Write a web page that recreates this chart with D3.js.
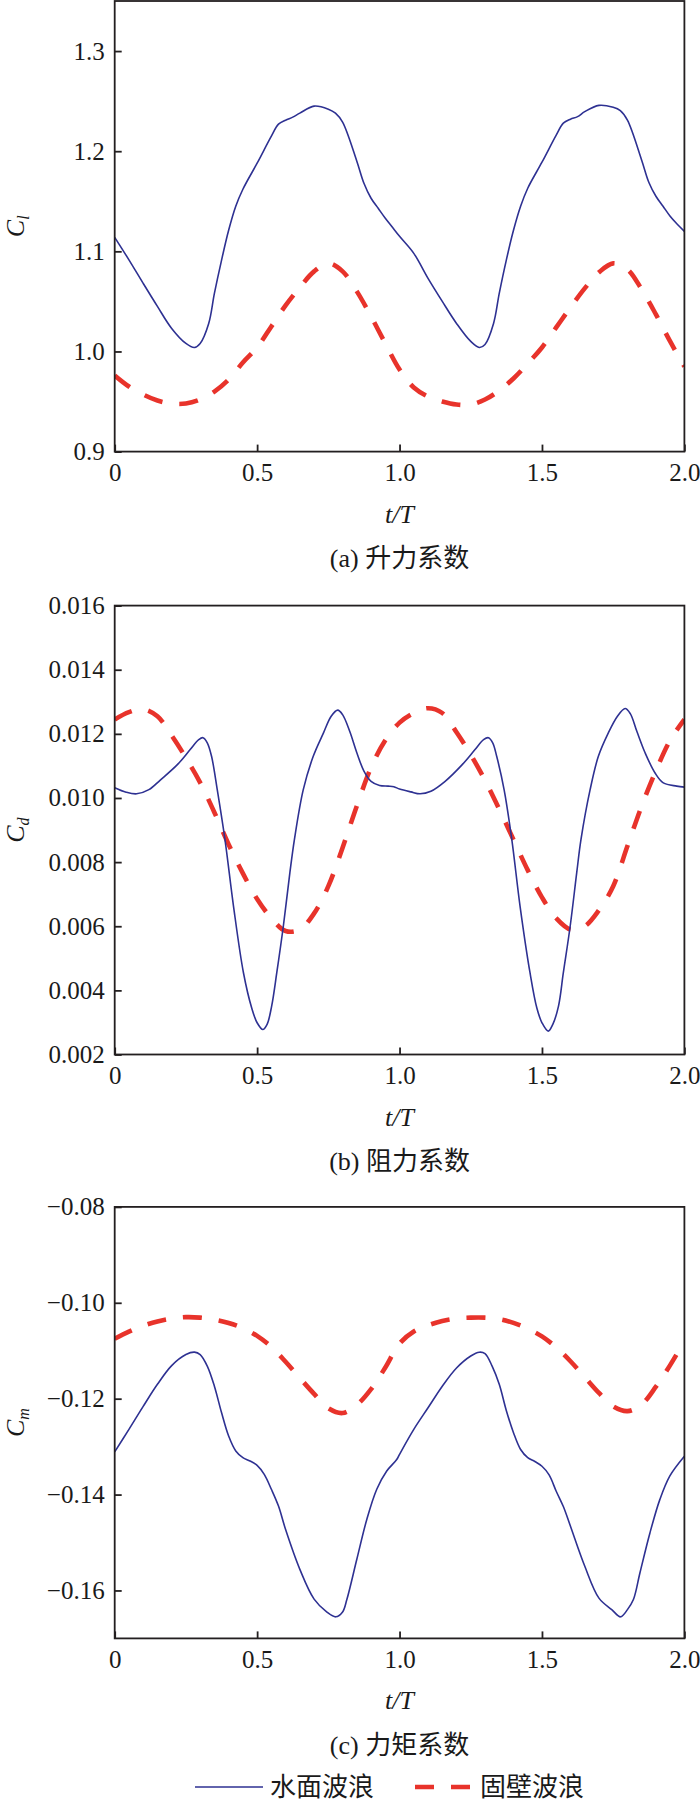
<!DOCTYPE html>
<html>
<head>
<meta charset="utf-8">
<script src="https://cdn.jsdelivr.net/npm/d3@7"></script>
<style>
  body { margin: 0; background: #fff; }
  svg { display: block; }
  text { font-family: "Liberation Serif", "Times New Roman", "Noto Sans CJK SC", serif; fill: #1a1a1a; }
</style>
</head>
<body>
<script>
// ---- data, [t/T, value] ----
var liftWater = [[0,1.114],[0.05,1.0915],[0.1,1.068],[0.15,1.045],[0.2,1.023],[0.25,1.008],[0.28,1.004],[0.3,1.008],[0.33,1.028],[0.35,1.058],[0.375,1.091],[0.4,1.121],[0.425,1.145],[0.45,1.162],[0.5,1.188],[0.55,1.215],[0.575,1.227],[0.6,1.231],[0.625,1.234],[0.65,1.238],[0.7,1.245],[0.75,1.242],[0.775,1.238],[0.8,1.229],[0.85,1.19],[0.875,1.168],[0.9,1.153],[0.925,1.143],[0.95,1.133],[0.975,1.124],[1.0,1.115],
  [1.05,1.098],[1.1,1.073],[1.15,1.05],[1.2,1.028],[1.25,1.01],[1.28,1.004],[1.3,1.007],[1.33,1.028],[1.35,1.058],[1.375,1.0915],[1.4,1.121],[1.425,1.145],[1.45,1.163],[1.5,1.189],[1.55,1.216],[1.575,1.228],[1.6,1.232],[1.625,1.2345],[1.65,1.2395],[1.7,1.2458],[1.75,1.2438],[1.775,1.2405],[1.8,1.231],[1.85,1.191],[1.875,1.169],[1.9,1.155],[1.925,1.145],[1.95,1.135],[1.975,1.127],[2.0,1.12]];
var liftWall = [[0,0.976],[0.05,0.965],[0.1,0.957],[0.15,0.951],[0.2,0.948],[0.25,0.948],[0.3,0.952],[0.35,0.960],[0.4,0.972],[0.45,0.989],[0.5,1.004],[0.55,1.025],[0.6,1.046],[0.65,1.064],[0.7,1.080],[0.75,1.088],[0.8,1.080],[0.85,1.060],[0.9,1.035],[0.95,1.008],[1.0,0.982],
  [1.05,0.964],[1.1,0.955],[1.15,0.950],[1.2,0.947],[1.25,0.947],[1.3,0.952],[1.35,0.961],[1.4,0.973],[1.45,0.988],[1.5,1.004],[1.55,1.024],[1.6,1.044],[1.65,1.063],[1.7,1.079],[1.75,1.088],[1.8,1.082],[1.85,1.062],[1.9,1.037],[1.95,1.010],[2.0,0.985]];

var dragWater = [[0,0.01032],[0.04,0.01018],[0.077,0.01013],[0.12,0.01026],[0.16,0.01056],[0.22,0.01104],[0.265,0.01151],[0.295,0.01182],[0.31,0.01188],[0.325,0.01172],[0.34,0.0113],[0.36,0.01026],[0.387,0.00871],[0.417,0.00663],[0.452,0.00455],[0.481,0.00345],[0.5,0.00299],[0.52,0.00278],[0.535,0.00294],[0.551,0.00351],[0.569,0.00455],[0.592,0.006],[0.615,0.00767],[0.631,0.00871],[0.662,0.01026],[0.697,0.0113],[0.733,0.01203],[0.76,0.01255],[0.783,0.01274],[0.8,0.0126],[0.825,0.01208],[0.85,0.01141],[0.875,0.01084],[0.9,0.01052],[0.93,0.01039],[0.96,0.01037],[0.98,0.01035],[1.0,0.01028],
  [1.04,0.01019],[1.072,0.01013],[1.11,0.01021],[1.16,0.01052],[1.22,0.01104],[1.265,0.01151],[1.295,0.01182],[1.312,0.01188],[1.327,0.01172],[1.341,0.0113],[1.367,0.01026],[1.394,0.00871],[1.423,0.00663],[1.458,0.00455],[1.482,0.00345],[1.5,0.00299],[1.522,0.00273],[1.538,0.00294],[1.558,0.00351],[1.575,0.00455],[1.599,0.006],[1.622,0.00767],[1.637,0.00871],[1.669,0.01026],[1.698,0.0113],[1.733,0.01203],[1.765,0.01255],[1.792,0.01279],[1.81,0.01263],[1.833,0.01208],[1.862,0.01141],[1.897,0.01078],[1.926,0.01047],[1.973,0.01037],[2.0,0.01034]];
var dragWall = [[0,0.01245],[0.05,0.01268],[0.1,0.01277],[0.15,0.01255],[0.2,0.01195],[0.25,0.01125],[0.3,0.01048],[0.35,0.00955],[0.4,0.00855],[0.45,0.00765],[0.5,0.00685],[0.55,0.00625],[0.6,0.00585],[0.65,0.0059],[0.7,0.0064],[0.75,0.00725],[0.8,0.00845],[0.85,0.00975],[0.9,0.01095],[0.95,0.0118],[1.0,0.01235],
  [1.05,0.01265],[1.1,0.0128],[1.15,0.01265],[1.2,0.01205],[1.25,0.01135],[1.3,0.01055],[1.35,0.00965],[1.4,0.0087],[1.45,0.00775],[1.5,0.0069],[1.55,0.00625],[1.6,0.0059],[1.65,0.006],[1.7,0.0065],[1.75,0.00725],[1.8,0.0085],[1.85,0.00975],[1.9,0.01085],[1.95,0.0118],[2.0,0.01245]];

var momentWater = [[0,-0.1311],[0.05,-0.1264],[0.1,-0.1216],[0.15,-0.117],[0.2,-0.1131],[0.25,-0.1108],[0.28,-0.1103],[0.3,-0.1108],[0.325,-0.1132],[0.35,-0.1174],[0.375,-0.1229],[0.4,-0.1278],[0.425,-0.1309],[0.45,-0.1323],[0.475,-0.133],[0.5,-0.1339],[0.525,-0.1358],[0.55,-0.1389],[0.575,-0.1424],[0.6,-0.1473],[0.65,-0.1556],[0.7,-0.1618],[0.745,-0.1645],[0.776,-0.1655],[0.8,-0.1645],[0.815,-0.1619],[0.85,-0.1535],[0.885,-0.1452],[0.92,-0.1389],[0.955,-0.1351],[0.99,-0.1327],[1.0,-0.1316],
  [1.05,-0.1264],[1.1,-0.1219],[1.15,-0.1174],[1.2,-0.1136],[1.25,-0.1111],[1.28,-0.1103],[1.3,-0.1106],[1.325,-0.1132],[1.35,-0.117],[1.375,-0.1225],[1.4,-0.1271],[1.425,-0.1306],[1.45,-0.1323],[1.475,-0.1331],[1.5,-0.1341],[1.525,-0.1359],[1.55,-0.1393],[1.575,-0.1425],[1.6,-0.1466],[1.65,-0.1549],[1.7,-0.1616],[1.745,-0.164],[1.776,-0.1655],[1.8,-0.164],[1.821,-0.1619],[1.844,-0.1563],[1.879,-0.148],[1.914,-0.141],[1.949,-0.1361],[2.0,-0.132]];
var momentWall = [[0,-0.1075],[0.05,-0.106],[0.1,-0.1048],[0.15,-0.1039],[0.2,-0.1033],[0.25,-0.103],[0.3,-0.1031],[0.35,-0.1035],[0.4,-0.1042],[0.45,-0.1053],[0.5,-0.1069],[0.55,-0.1092],[0.6,-0.1123],[0.65,-0.1157],[0.7,-0.119],[0.75,-0.122],[0.8,-0.123],[0.85,-0.1213],[0.9,-0.118],[0.95,-0.1135],[1.0,-0.1085],
  [1.05,-0.106],[1.1,-0.1047],[1.15,-0.1038],[1.2,-0.1033],[1.25,-0.1031],[1.3,-0.1031],[1.35,-0.1034],[1.4,-0.1042],[1.45,-0.1054],[1.5,-0.107],[1.55,-0.1093],[1.6,-0.1122],[1.65,-0.1155],[1.7,-0.1188],[1.75,-0.1216],[1.8,-0.1226],[1.85,-0.1212],[1.9,-0.1175],[1.95,-0.113],[2.0,-0.108]];

var xTicks = [0, 0.5, 1.0, 1.5, 2.0];
var liftTicks = [0.9, 1.0, 1.1, 1.2, 1.3];
var dragTicks = [0.002, 0.004, 0.006, 0.008, 0.010, 0.012, 0.014, 0.016];
var momentTicks = [-0.16, -0.14, -0.12, -0.10, -0.08];
var seriesNames = ["水面波浪", "固壁波浪"];
var captions = ["(a) 升力系数", "(b) 阻力系数", "(c) 力矩系数"];
var ySubs = ["l", "d", "m"];

// ---- layout ----
var left = 114.7, right = 684.4;
var blue = "#2e3192", red = "#e8332b", frameColor = "#231f20";
var serif = "'Liberation Serif', 'Times New Roman', serif";

var svg = d3.select("body").append("svg")
    .attr("width", 700)
    .attr("height", 1804);

var x = d3.scaleLinear().domain([0, 2]).range([left, right]);

var panels = [
  { top: 1, bottom: 451.6, domain: [0.9, 1.35], ticks: liftTicks, fmt: d3.format(".1f"), water: liftWater, wall: liftWall },
  { top: 605.6, bottom: 1054.5, domain: [0.002, 0.016], ticks: dragTicks, fmt: d3.format(".3f"), water: dragWater, wall: dragWall },
  { top: 1206.9, bottom: 1638.4, domain: [-0.17, -0.08], ticks: momentTicks, fmt: d3.format(".2f"), water: momentWater, wall: momentWall }
];

panels.forEach(function (p, i) {
  var y = d3.scaleLinear().domain(p.domain).range([p.bottom, p.top]);
  var g = svg.append("g");

  svg.append("clipPath").attr("id", "clip" + i)
    .append("rect")
    .attr("x", left).attr("y", p.top)
    .attr("width", right - left).attr("height", p.bottom - p.top);

  var line = d3.line()
      .x(function (d) { return x(d[0]); })
      .y(function (d) { return y(d[1]); })
      .curve(d3.curveCatmullRom.alpha(0.5));

  g.append("path")
    .attr("clip-path", "url(#clip" + i + ")")
    .attr("d", line(p.wall))
    .attr("fill", "none")
    .attr("stroke", red)
    .attr("stroke-width", 4.6)
    .attr("stroke-dasharray", "19,17");

  g.append("path")
    .attr("clip-path", "url(#clip" + i + ")")
    .attr("d", line(p.water))
    .attr("fill", "none")
    .attr("stroke", blue)
    .attr("stroke-width", 1.6);

  // axes, ticks pointing inward
  var yAxis = d3.axisLeft(y).tickValues(p.ticks).tickSize(-7).tickPadding(10).tickFormat(p.fmt);
  var xAxis = d3.axisBottom(x).tickValues(xTicks).tickSize(-7).tickPadding(12)
      .tickFormat(function (d) { return d === 0 ? "0" : d.toFixed(1); });

  var ya = g.append("g").attr("transform", "translate(" + left + ",0)").call(yAxis);
  var xa = g.append("g").attr("transform", "translate(0," + p.bottom + ")").call(xAxis);
  [ya, xa].forEach(function (a) {
    a.attr("font-family", null).attr("font-size", null);
    a.select(".domain").remove();
    a.selectAll("line").attr("stroke", frameColor).attr("stroke-width", 1.8);
    a.selectAll("text").attr("fill", "#1a1a1a")
      .style("font-family", serif).style("font-size", "25px");
  });

  g.append("rect")
    .attr("x", left).attr("y", p.top)
    .attr("width", right - left).attr("height", p.bottom - p.top)
    .attr("fill", "none")
    .attr("stroke", frameColor)
    .attr("stroke-width", 1.8);

  // y label C with subscript
  var yl = g.append("text")
    .attr("transform", "translate(24," + ((p.top + p.bottom) / 2) + ") rotate(-90)")
    .attr("text-anchor", "middle")
    .attr("font-size", 26)
    .attr("font-style", "italic");
  yl.append("tspan").text("C");
  yl.append("tspan").attr("dy", 5).attr("font-size", 16).text(ySubs[i]);

  // x label t/T
  g.append("text")
    .attr("x", (left + right) / 2)
    .attr("y", p.bottom + 71)
    .attr("text-anchor", "middle")
    .attr("font-size", 26)
    .attr("font-style", "italic")
    .text("t/T");

  g.append("text")
    .attr("x", (left + right) / 2)
    .attr("y", p.bottom + 106.5)
    .attr("dy", "0.36em")
    .attr("text-anchor", "middle")
    .attr("font-size", 26)
    .text(captions[i]);
});

// legend
var legY = 1787;
var legend = svg.append("g");
legend.append("line")
  .attr("x1", 195).attr("x2", 263).attr("y1", legY).attr("y2", legY)
  .attr("stroke", blue).attr("stroke-width", 1.6);
legend.append("text")
  .attr("x", 270).attr("y", legY).attr("dy", "0.35em")
  .attr("font-size", 26).text(seriesNames[0]);
legend.append("line")
  .attr("x1", 415).attr("x2", 472).attr("y1", legY).attr("y2", legY)
  .attr("stroke", red).attr("stroke-width", 4.6).attr("stroke-dasharray", "19,17");
legend.append("text")
  .attr("x", 480).attr("y", legY).attr("dy", "0.35em")
  .attr("font-size", 26).text(seriesNames[1]);
</script>
</body>
</html>
